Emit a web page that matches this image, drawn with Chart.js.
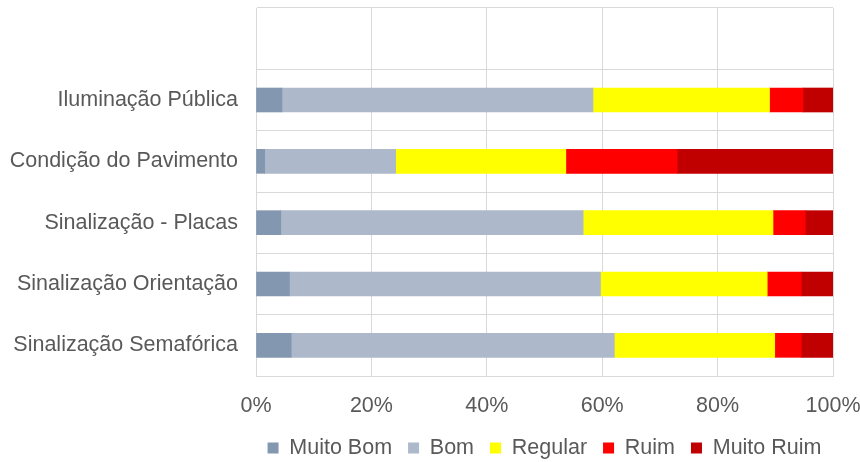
<!DOCTYPE html>
<html>
<head>
<meta charset="utf-8">
<script src="https://cdn.jsdelivr.net/npm/chart.js@4"></script>
<style>
    html, body { margin: 0; padding: 0; background: #fff; }
    #wrap { width: 860px; height: 462px; position: relative; }
</style>
</head>
<body>
<div id="wrap"><canvas id="chart"></canvas></div>
<script>
// ─── Data ─────────────────────────────────────────────────
// top slot is an empty category, as in the original sheet
const categories = ['', 'Iluminação Pública', 'Condição do Pavimento', 'Sinalização - Placas', 'Sinalização Orientação', 'Sinalização Semafórica'];
const muitoBom   = [null, 4.5,  1.5,  4.3,  5.8,  6.1];
const bom        = [null, 53.9, 22.7, 52.4, 53.9, 56.0];
const regular    = [null, 30.6, 29.5, 32.9, 28.9, 27.8];
const ruim       = [null, 5.8,  19.3, 5.6,  5.9,  4.6];
const muitoRuim  = [null, 5.2,  27.0, 4.8,  5.5,  5.5];
const xTicks     = [0, 20, 40, 60, 80, 100];

const TEXT  = '#595959';
const GRID  = '#D9D9D9';
const FONT  = "'Liberation Sans', Arial, sans-serif";
const FSIZE = 21.5;

const PLOT_BOTTOM = 376;   // where the plot area ends
const LEGEND_H    = 36;    // room kept for the legend row
const LEGEND_MID  = 448;   // vertical centre of legend row
const LEGEND_PAD  = 16;

function ds(label, data, color) {
    return { label, data, backgroundColor: color, borderWidth: 0, barThickness: 24 };
}

// keep legend short in layout, then centre it under the plot area
const legendPlacer = {
    id: 'legendPlacer',
    beforeLayout(chart) {
        const lg = chart.legend;
        if (lg && !lg._patched) {
            const fit = lg.fit.bind(lg);
            lg.fit = function () { fit(); this.height = LEGEND_H; };
            lg._patched = true;
        }
    },
    afterLayout(chart) {
        const lg = chart.legend, ca = chart.chartArea;
        lg.left   = ca.left - 200;
        lg.right  = ca.right + 200;
        lg.top    = LEGEND_MID - LEGEND_PAD - FSIZE / 2;
        lg.bottom = chart.height;
    }
};

new Chart(document.getElementById('chart'), {
    type: 'bar',
    data: {
        labels: categories,
        datasets: [
            ds('Muito Bom',  muitoBom,  '#8497B0'),
            ds('Bom',        bom,       '#ADB9CA'),
            ds('Regular',    regular,   '#FFFF00'),
            ds('Ruim',       ruim,      '#FF0000'),
            ds('Muito Ruim', muitoRuim, '#C00000'),
        ]
    },
    plugins: [legendPlacer],
    options: {
        indexAxis: 'y',
        responsive: true,
        maintainAspectRatio: false,
        animation: false,
        layout: { padding: { top: 8, right: 27, bottom: 0, left: 0 } },
        scales: {
            x: {
                stacked: true,
                min: 0, max: 100,
                afterBuildTicks: s => { s.ticks = xTicks.map(v => ({ value: v })); },
                afterFit: s => {
                    s.height = s.chart.height - PLOT_BOTTOM - LEGEND_H;
                    s.paddingLeft = 0; s.paddingRight = 0;
                },
                ticks: {
                    color: TEXT,
                    font: { family: FONT, size: FSIZE },
                    padding: 17,
                    callback: v => v + '%',
                },
                grid: { color: GRID, drawTicks: false },
                border: { color: GRID },
            },
            y: {
                stacked: true,
                afterFit: s => { s.width = 256; s.paddingTop = 0; s.paddingBottom = 0; },
                ticks: {
                    color: TEXT,
                    font: { family: FONT, size: FSIZE },
                    padding: 18,
                },
                grid: { color: GRID, drawTicks: false },
                border: { color: GRID },
            }
        },
        plugins: {
            legend: {
                position: 'bottom',
                labels: {
                    color: TEXT,
                    font: { family: FONT, size: FSIZE },
                    boxWidth: 11,
                    boxHeight: 11,
                    padding: LEGEND_PAD,
                }
            },
            tooltip: { enabled: false }
        }
    }
});
</script>
</body>
</html>
